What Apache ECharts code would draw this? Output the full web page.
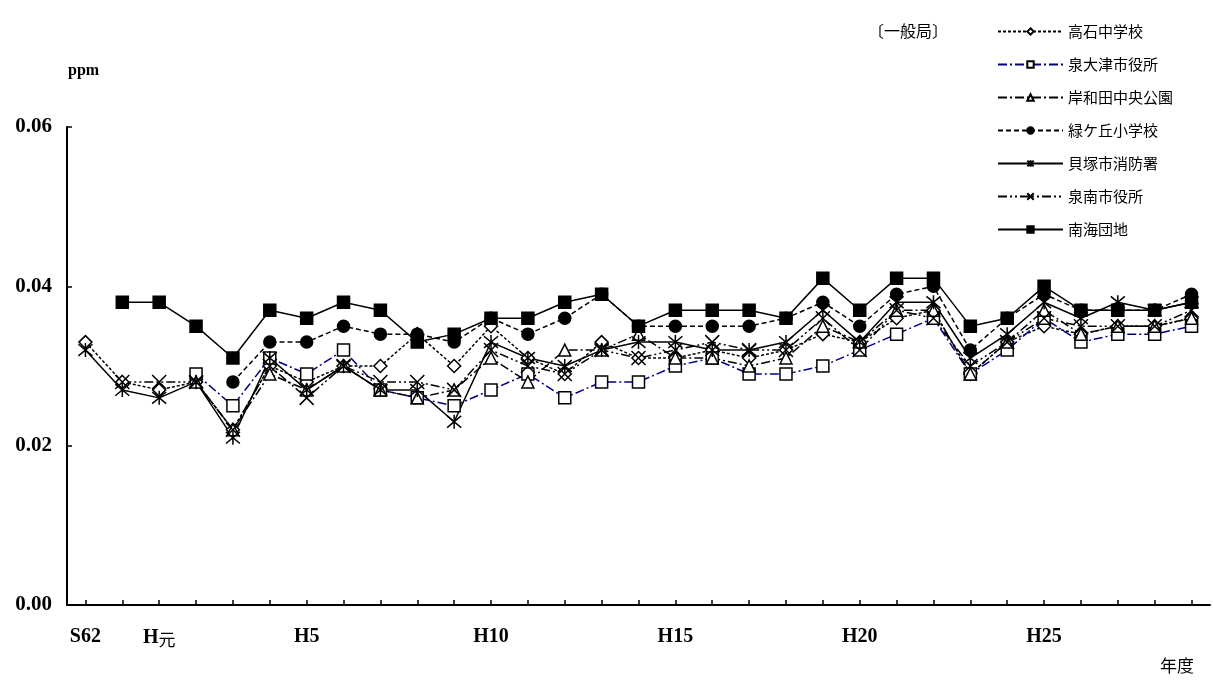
<!DOCTYPE html>
<html>
<head>
<meta charset="utf-8">
<script src="https://cdn.jsdelivr.net/npm/echarts@6/dist/echarts.min.js"></script>
<style>
html,body{margin:0;padding:0;background:#fff;}
#chart{width:1213px;height:680px;}
</style>
</head>
<body>
<div id="chart"></div>
<script>
// Categories: fiscal years S62 .. H29
const categories = ['S62','S63','H元','H2','H3','H4','H5','H6','H7','H8','H9','H10','H11','H12','H13','H14','H15','H16','H17','H18','H19','H20','H21','H22','H23','H24','H25','H26','H27','H28','H29'];
const shownLabels = ['S62','H元','H5','H10','H15','H20','H25'];
const yTicks = [0, 0.02, 0.04, 0.06];

const takaishi   = [0.033,0.028,0.027,0.028,0.022,0.030,0.028,0.030,0.030,0.034,0.030,0.035,0.031,0.029,0.033,0.031,0.031,0.032,0.031,0.032,0.034,0.033,0.036,0.037,0.029,0.033,0.035,0.034,0.035,0.035,0.036];
const izumiotsu  = [null,null,null,0.029,0.025,0.031,0.029,0.032,0.027,0.026,0.025,0.027,0.029,0.026,0.028,0.028,0.030,0.031,0.029,0.029,0.030,0.032,0.034,0.036,0.029,0.032,0.036,0.033,0.034,0.034,0.035];
const kishiwada  = [null,null,null,0.028,0.022,0.029,0.027,0.030,0.027,0.026,0.027,0.031,0.028,0.032,0.032,0.034,0.031,0.031,0.030,0.031,0.035,0.033,0.037,0.037,0.029,0.033,0.037,0.034,0.035,0.035,0.036];
const midorigaoka= [null,null,null,null,0.028,0.033,0.033,0.035,0.034,0.034,0.033,0.036,0.034,0.036,0.039,0.035,0.035,0.035,0.035,0.036,0.038,0.035,0.039,0.040,0.032,0.036,0.039,0.037,0.037,0.037,0.039];
const kaizuka    = [0.032,0.027,0.026,0.028,0.021,0.031,0.027,0.030,0.027,0.027,0.023,0.033,0.031,0.030,0.032,0.033,0.033,0.032,0.032,0.033,0.037,0.033,0.038,0.038,0.031,0.034,0.038,0.036,0.038,0.037,0.038];
const sennan     = [null,0.028,0.028,0.028,0.022,0.030,0.026,0.030,0.028,0.028,0.027,0.032,0.030,0.029,0.032,0.031,0.032,0.033,0.032,0.032,0.036,0.032,0.037,0.036,0.030,0.033,0.036,0.035,0.035,0.035,0.037];
const nankai     = [null,0.038,0.038,0.035,0.031,0.037,0.036,0.038,0.037,0.033,0.034,0.036,0.036,0.038,0.039,0.035,0.037,0.037,0.037,0.036,0.041,0.037,0.041,0.041,0.035,0.036,0.040,0.037,0.037,0.037,0.038];

const seriesNames = ['高石中学校','泉大津市役所','岸和田中央公園','緑ケ丘小学校','貝塚市消防署','泉南市役所','南海団地'];

const X_PATH = 'path://M0,0L10,10M10,0L0,10';
const STAR_PATH = 'path://M0,0L10,10M10,0L0,10M5,-1L5,11';

const chart = echarts.init(document.getElementById('chart'));

function mk(name, data, lineColor, dash, symbol, fill, size) {
  return {
    name: name, type: 'line', data: data,
    symbol: symbol, symbolSize: size, showAllSymbol: true,
    lineStyle: {color: lineColor, width: 1.5, type: dash},
    itemStyle: {color: fill, borderColor: '#000', borderWidth: 1.5},
    emphasis: {disabled: true},
    animation: false
  };
}

const option = {
  backgroundColor: '#fff',
  animation: false,
  grid: {left: 67, right: 3, top: 127, bottom: 75, containLabel: false},
  legend: {
    orient: 'vertical', left: 997, top: 24, padding: 0,
    itemWidth: 65, itemHeight: 8, itemGap: 18,
    textStyle: {fontFamily: '"Noto Sans CJK JP"', fontSize: 15, color: '#000'},
    data: seriesNames
  },
  xAxis: {
    type: 'category', data: categories, boundaryGap: true,
    axisLine: {lineStyle: {color: '#000', width: 2}},
    axisTick: {show: true, inside: true, length: 5, alignWithLabel: true, interval: 0, lineStyle: {color: '#000', width: 1.5}},
    axisLabel: {
      interval: function (i, v) { return shownLabels.indexOf(v) >= 0; },
      margin: 22, color: '#000',
      fontFamily: '"Liberation Serif", serif', fontWeight: 'bold', fontSize: 20,
      formatter: function (v) {
        if (v === 'H元') return '{b|H}{g|元}';
        return '{b|' + v + '}';
      },
      rich: {
        b: {fontFamily: '"Liberation Serif", serif', fontWeight: 'bold', fontSize: 20, color: '#000'},
        g: {fontFamily: '"Noto Sans CJK JP"', fontWeight: 'normal', fontSize: 17, color: '#000', padding: [4,0,0,0]}
      }
    },
    splitLine: {show: false}
  },
  yAxis: {
    type: 'value', min: yTicks[0], max: yTicks[yTicks.length-1], interval: 0.02,
    axisLine: {show: true, lineStyle: {color: '#000', width: 2}},
    axisTick: {show: true, inside: true, length: 5, lineStyle: {color: '#000', width: 1.5}},
    splitLine: {show: false},
    axisLabel: {
      margin: 15, color: '#000',
      fontFamily: '"Liberation Serif", serif', fontWeight: 'bold', fontSize: 21,
      formatter: function (v) { return v.toFixed(2); }
    }
  },
  graphic: [
    {type: 'text', left: 68, top: 63, style: {text: 'ppm', fontFamily: '"Liberation Serif", serif', fontWeight: 'bold', fontSize: 16, fill: '#000'}},
    {type: 'text', left: 868, top: 23, style: {text: '〔一般局〕', fontFamily: '"Noto Sans CJK JP"', fontSize: 16, fill: '#000'}},
    {type: 'text', left: 1160, top: 657, style: {text: '年度', fontFamily: '"Noto Sans CJK JP"', fontSize: 17, fill: '#000'}}
  ],
  series: [
    mk(seriesNames[0], takaishi, '#000', [3,2], 'diamond', '#fff', 13),
    mk(seriesNames[1], izumiotsu, '#000080', [9,3,2,3], 'rect', '#fff', 12),
    mk(seriesNames[2], kishiwada, '#000', [9,3,2,3], 'triangle', '#fff', 12),
    mk(seriesNames[3], midorigaoka, '#000', [5,3], 'circle', '#000', 12),
    mk(seriesNames[4], kaizuka, '#000', 'solid', STAR_PATH, '#000', 14),
    mk(seriesNames[5], sennan, '#000', [9,3,2,3,2,3], X_PATH, '#000', 14),
    mk(seriesNames[6], nankai, '#000', 'solid', 'rect', '#000', 12)
  ]
};
chart.setOption(option);
</script>
</body>
</html>
